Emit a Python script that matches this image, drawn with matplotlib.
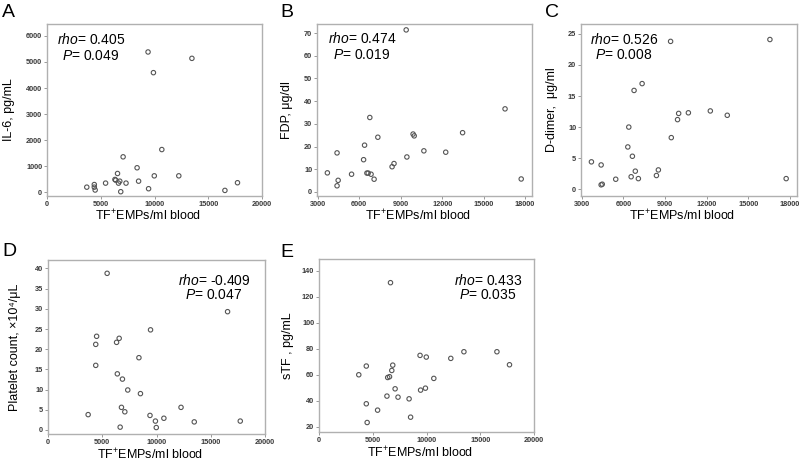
import matplotlib
matplotlib.use("Agg")
import matplotlib.pyplot as plt

plt.rcParams['font.family'] = ['Liberation Sans', 'DejaVu Sans']
plt.rcParams['mathtext.fontset'] = 'custom'
plt.rcParams['mathtext.rm'] = 'Liberation Sans'
plt.rcParams['mathtext.it'] = 'Liberation Sans:italic'

# TF+ EMPs per ml blood (shared by all panels)
tf_emps = [3700, 4400, 4400, 4480, 5450, 6320, 6390, 6560, 6650, 6770, 6860, 7080,
           7350, 8380, 8520, 9400, 9450, 9900, 9980, 10680, 12260, 13480, 16550, 17720]

il6 = [190, 290, 190, 80, 345, 485, 460, 715, 345, 420, 15, 1355,
       345, 935, 420, 5385, 130, 4590, 625, 1635, 625, 5140, 65, 360]
fdp = [8.4, 17.2, 2.7, 5.1, 7.8, 14.2, 20.6, 8.3, 8.3, 32.8, 7.8, 5.6,
       24.1, 11.1, 12.5, 71.4, 15.4, 25.5, 24.7, 18.1, 17.5, 26.1, 36.6, 5.7]
ddimer = [4.4, 3.9, 0.7, 0.8, 1.6, 6.8, 10.0, 2.0, 5.3, 15.9, 2.9, 1.7,
          17.0, 2.2, 3.1, 23.8, 8.3, 11.2, 12.2, 12.3, 12.6, 11.9, 24.1, 1.7]
platelet = [3.8, 16.0, 21.2, 23.2, 38.8, 21.7, 13.9, 22.7, 0.7, 5.6, 12.6, 4.5,
            9.9, 17.9, 9.0, 3.6, 24.8, 2.2, 0.6, 2.9, 5.6, 2.0, 29.3, 2.2]
stf = [60.0, 66.7, 37.7, 23.3, 32.8, 43.6, 57.9, 58.5, 130.8, 63.3, 67.4, 49.2,
       42.8, 41.5, 27.4, 74.9, 48.2, 49.7, 73.6, 57.2, 72.6, 77.7, 77.7, 67.7]

letters = ['A', 'B', 'C', 'D', 'E']
ylabels = ['IL-6, pg/mL', 'FDP, \u03bcg/dl', 'D-dimer,  \u03bcg/ml',
           'Platelet count, \u00d710\u2074/\u03bcL', 'sTF , pg/mL']
rhos = ['0.405', '0.474', '0.526', '-0.409', '0.433']
pvals = ['0.049', '0.019', '0.008', '0.047', '0.035']
series = [il6, fdp, ddimer, platelet, stf]

W, H = 800, 465
# pixel boxes: left, right, top, bottom
boxes = [(47, 262, 24, 196), (317, 532, 24, 196), (581, 797, 24, 196),
         (48, 265, 260, 434), (319, 534, 259, 432)]
xlims = [(0, 20000), (2950, 18500), (2950, 18500), (0, 20000), (0, 20000)]
xticks = [range(0, 20001, 5000), range(3000, 18001, 3000), range(3000, 18001, 3000),
          range(0, 20001, 5000), range(0, 20001, 5000)]
ylims = [(-150, 6460), (-1.8, 74), (-1.1, 26.6), (-1.0, 42.1), (16, 149)]
yticks = [range(0, 6001, 1000), range(0, 71, 10), range(0, 26, 5),
          range(0, 41, 5), range(20, 141, 20)]
ylabel_px = [9, 287, 552, 15, 288]
xlabel_px = [216, 216, 216, 455, 453]
letter_px = [(2, 17), (280, 17), (545, 17), (2, 256), (280, 257)]
stat_px = [(91, 40, 56), (362, 38, 55), (624, 40, 55), (214, 280, 295), (488, 280, 295)]

fig = plt.figure(figsize=(W / 100, H / 100), dpi=100)

for i in range(5):
    l, r, t, b = boxes[i]
    ax = fig.add_axes([l / W, 1 - b / H, (r - l) / W, (b - t) / H])
    ax.scatter(tf_emps, series[i], s=10, facecolors='none', edgecolors='#555555',
               linewidths=0.8)
    ax.set_xlim(*xlims[i])
    ax.set_ylim(*ylims[i])
    ax.set_xticks(list(xticks[i]))
    ax.set_yticks(list(yticks[i]))
    for sp in ax.spines.values():
        sp.set_color('#b0b0b0')
        sp.set_linewidth(1.0)
    ax.tick_params(length=2, width=0.6, color='#888888', pad=1.5,
                   labelsize=5.3, labelcolor='#3a3a3a')
    for lab in ax.get_xticklabels() + ax.get_yticklabels():
        lab.set_fontweight('bold')

    ax.set_xlabel(r'TF$^{\mathregular{+}}$EMPs/ml blood', fontsize=9)
    ax.xaxis.set_label_coords(0.47, -(xlabel_px[i] - b) / (b - t))
    ax.xaxis.label.set_va('center')
    ax.set_ylabel(ylabels[i], fontsize=9)
    ax.yaxis.set_label_coords((ylabel_px[i] - l) / (r - l), 0.5)
    ax.yaxis.label.set_va('center')

    lx, ly = letter_px[i]
    fig.text(lx / W, 1 - ly / H, letters[i], fontsize=14, ha='left', va='baseline')
    sx, sy1, sy2 = stat_px[i]
    fig.text(sx / W, 1 - sy1 / H, r'$\mathit{rho}$= ' + rhos[i], fontsize=10,
             ha='center', va='center')
    fig.text(sx / W, 1 - sy2 / H, r'$\mathit{P}$= ' + pvals[i], fontsize=10,
             ha='center', va='center')

fig.savefig('out.png', dpi=100)
